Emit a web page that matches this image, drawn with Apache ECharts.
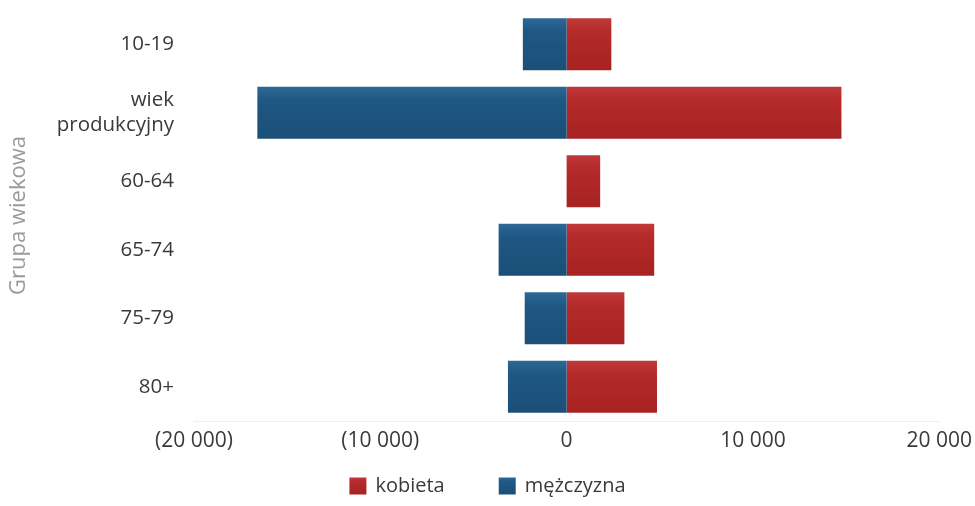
<!DOCTYPE html>
<html>
<head>
<meta charset="utf-8">
<script src="https://cdn.jsdelivr.net/npm/echarts@6/dist/echarts.min.js"></script>
<style>
html,body{margin:0;padding:0;background:#fff;}
#c{width:975px;height:506px;}
</style>
</head>
<body>
<div id="c"></div>
<script>
const categories = ['10-19', 'wiek\nprodukcyjny', '60-64', '65-74', '75-79', '80+'];
const kobieta = [2400, 14750, 1800, 4700, 3100, 4850];
const mezczyzna = [-2350, -16600, 0, -3650, -2250, -3150];
const xTicks = [-20000, -10000, 0, 10000, 20000];
const seriesNames = ['kobieta', 'mężczyzna'];

function fmt(v) {
  const a = Math.abs(v).toString().replace(/\B(?=(\d{3})+(?!\d))/g, ' ');
  return v < 0 ? '(' + a + ')' : a;
}
const font = 'Open Sans';
const chart = echarts.init(document.getElementById('c'));
function grad(top, mid, bot) {
  return new echarts.graphic.LinearGradient(0, 0, 0, 1, [
    {offset: 0, color: top}, {offset: 0.25, color: mid}, {offset: 1, color: bot}
  ]);
}
chart.setOption({
  animation: false,
  textStyle: {fontFamily: font},
  grid: {left: 194, right: 32, top: 10, bottom: 85, containLabel: false},
  legend: {
    data: seriesNames,
    bottom: 5,
    left: 'center',
    itemWidth: 17, itemHeight: 17, itemGap: 54,
    icon: 'rect',
    textStyle: {fontSize: 20, color: '#3a3a3a', fontFamily: font, padding: [0, 0, 0, 4]}
  },
  xAxis: {
    type: 'value', min: xTicks[0], max: xTicks[xTicks.length - 1], interval: 10000,
    axisLabel: {formatter: fmt, fontSize: 21, color: '#3a3a3a', margin: 10, fontFamily: font},
    axisLine: {show: true, lineStyle: {color: '#f2eded'}},
    axisTick: {show: false},
    splitLine: {show: false}
  },
  yAxis: {
    type: 'category', data: categories, inverse: true,
    name: 'Grupa wiekowa', nameLocation: 'middle', nameGap: 164,
    nameTextStyle: {fontSize: 22, color: '#9a9a9a', fontFamily: font},
    axisLabel: {fontSize: 20.5, color: '#3a3a3a', margin: 20, lineHeight: 25, align: 'right', fontFamily: font},
    axisLine: {show: false}, axisTick: {show: false}, splitLine: {show: false}
  },
  series: [
    {
      name: seriesNames[0], type: 'bar', stack: 'total', data: kobieta, barWidth: 52,
      itemStyle: {color: grad('#c0393a', '#b52a2a', '#a72222')}
    },
    {
      name: seriesNames[1], type: 'bar', stack: 'total', data: mezczyzna, barWidth: 52,
      itemStyle: {color: grad('#2c6994', '#1f5884', '#1b4f78')}
    }
  ]
});
</script>
</body>
</html>
